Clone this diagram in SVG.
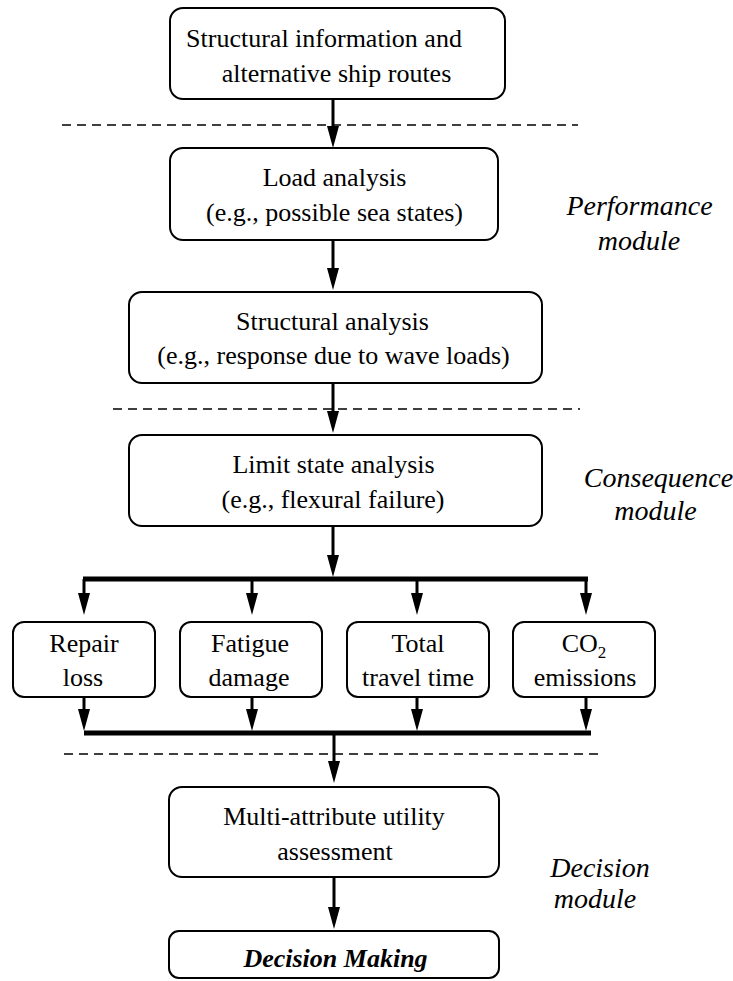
<svg xmlns="http://www.w3.org/2000/svg" width="733" height="981" viewBox="0 0 733 981" font-family="Liberation Serif, Tinos, Times New Roman, DejaVu Serif, serif">
<style>
  .box { fill: #ffffff; stroke: #000000; stroke-width: 2; }
  .t { font-size: 26px; fill: #000000; text-anchor: middle; }
  .side { font-size: 28px; font-style: italic; fill: #000000; text-anchor: middle; }
  .dash { stroke: #000000; stroke-width: 1.5; stroke-dasharray: 9 6; fill: none; }
  .arr { stroke: #000000; stroke-width: 3; fill: none; marker-end: url(#ah); }
  .bus { stroke: #000000; stroke-width: 5; fill: none; }
</style>
<defs>
  <marker id="ah" viewBox="0 0 22 12" refX="0" refY="6" markerWidth="22" markerHeight="12" markerUnits="userSpaceOnUse" orient="auto">
    <path d="M0,0 L22,6 L0,12 z" fill="#000000"/>
  </marker>
</defs>
<rect width="733" height="981" fill="#ffffff"/>

<g id="dividers">
  <line class="dash" x1="62" y1="125" x2="578" y2="125"/>
  <line class="dash" x1="113" y1="409" x2="580" y2="409"/>
  <line class="dash" x1="64" y1="754" x2="602" y2="754"/>
</g>

<g id="connectors">
  <line class="arr" x1="333" y1="99" x2="333" y2="126"/>
  <line class="arr" x1="333" y1="240" x2="333" y2="268"/>
  <line class="arr" x1="333" y1="383" x2="333" y2="411"/>
  <line class="arr" x1="333" y1="526" x2="333" y2="555"/>
  <line class="bus" x1="83" y1="579" x2="588" y2="579"/>
  <line class="arr" x1="84" y1="579" x2="84" y2="593"/>
  <line class="arr" x1="252" y1="579" x2="252" y2="593"/>
  <line class="arr" x1="417" y1="579" x2="417" y2="593"/>
  <line class="arr" x1="586" y1="579" x2="586" y2="593"/>
  <line class="arr" x1="84" y1="697" x2="84" y2="709"/>
  <line class="arr" x1="252" y1="697" x2="252" y2="709"/>
  <line class="arr" x1="417" y1="697" x2="417" y2="709"/>
  <line class="arr" x1="586" y1="697" x2="586" y2="709"/>
  <line class="bus" x1="84" y1="733" x2="591" y2="733"/>
  <line class="arr" x1="334" y1="733" x2="334" y2="761"/>
  <line class="arr" x1="334" y1="877" x2="334" y2="907"/>
</g>

<g id="n-structural-info">
  <rect class="box" x="170" y="8" width="335" height="91" rx="13"/>
  <text class="t" font-family="Liberation Serif, serif" x="324" y="47">Structural information and</text>
  <text class="t" font-family="Liberation Serif, serif" x="336.5" y="82">alternative ship routes</text>
</g>

<g id="n-load">
  <rect class="box" x="170" y="148" width="328" height="92" rx="13"/>
  <text class="t" font-family="Liberation Serif, serif" x="334.5" y="186">Load analysis</text>
  <text class="t" font-family="Liberation Serif, serif" x="334.5" y="221">(e.g., possible sea states)</text>
</g>

<g id="n-structural-analysis">
  <rect class="box" x="129" y="292" width="413" height="91" rx="13"/>
  <text class="t" font-family="Liberation Serif, serif" x="332.5" y="330">Structural analysis</text>
  <text class="t" font-family="Liberation Serif, serif" x="333.5" y="364">(e.g., response due to wave loads)</text>
</g>

<g id="n-limit-state">
  <rect class="box" x="129" y="435" width="413" height="91" rx="13"/>
  <text class="t" font-family="Liberation Serif, serif" x="333.5" y="473">Limit state analysis</text>
  <text class="t" font-family="Liberation Serif, serif" x="333" y="508">(e.g., flexural failure)</text>
</g>

<g id="n-repair">
  <rect class="box" x="13" y="622" width="142" height="75" rx="11"/>
  <text class="t" font-family="Liberation Serif, serif" x="84" y="652">Repair</text>
  <text class="t" font-family="Liberation Serif, serif" x="83" y="686">loss</text>
</g>

<g id="n-fatigue">
  <rect class="box" x="180" y="622" width="142" height="75" rx="11"/>
  <text class="t" font-family="Liberation Serif, serif" x="250" y="652">Fatigue</text>
  <text class="t" font-family="Liberation Serif, serif" x="249" y="686">damage</text>
</g>

<g id="n-travel">
  <rect class="box" x="347" y="622" width="142" height="75" rx="11"/>
  <text class="t" font-family="Liberation Serif, serif" x="418" y="652">Total</text>
  <text class="t" font-family="Liberation Serif, serif" x="418" y="686">travel time</text>
</g>

<g id="n-co2">
  <rect class="box" x="513" y="622" width="142" height="75" rx="11"/>
  <text class="t" font-family="Liberation Serif, serif" x="584" y="652">CO<tspan font-size="17" dy="6">2</tspan></text>
  <text class="t" font-family="Liberation Serif, serif" x="585" y="686">emissions</text>
</g>

<g id="n-utility">
  <rect class="box" x="169" y="787" width="330" height="90" rx="13"/>
  <text class="t" font-family="Liberation Serif, serif" x="334" y="825">Multi-attribute utility</text>
  <text class="t" font-family="Liberation Serif, serif" x="335" y="860">assessment</text>
</g>

<g id="n-decision">
  <rect class="box" x="169" y="931" width="330" height="47" rx="10"/>
  <text class="t" font-family="Liberation Serif, serif" x="335.5" y="967" font-weight="bold" font-style="italic">Decision Making</text>
</g>

<g id="labels">
  <text class="side" font-family="Liberation Serif, serif" x="639.5" y="215">Performance</text>
  <text class="side" font-family="Liberation Serif, serif" x="639" y="250">module</text>
  <text class="side" font-family="Liberation Serif, serif" x="658.5" y="487">Consequence</text>
  <text class="side" font-family="Liberation Serif, serif" x="655.5" y="520">module</text>
  <text class="side" font-family="Liberation Serif, serif" x="600" y="877">Decision</text>
  <text class="side" font-family="Liberation Serif, serif" x="595" y="908">module</text>
</g>
</svg>
